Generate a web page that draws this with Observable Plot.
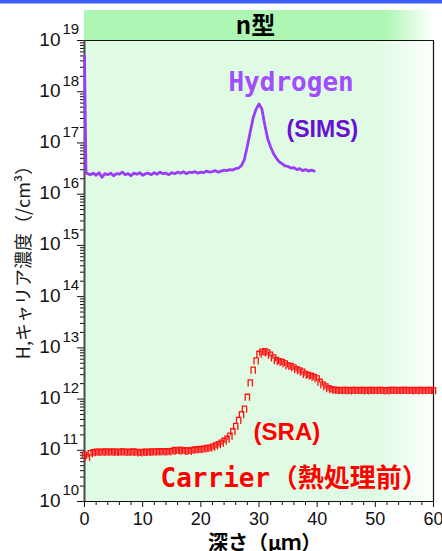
<!DOCTYPE html>
<html><head><meta charset="utf-8">
<script src="https://cdn.jsdelivr.net/npm/d3@7"></script>
<script src="https://cdn.jsdelivr.net/npm/@observablehq/plot@0.6"></script>
<style>
html,body{margin:0;padding:0;background:#fff;overflow:hidden}
svg{display:block}
</style>
</head><body><div id="chart"></div>
<script>
// ---- data ----
const sraDepth = [0,0.5,1,1.5,2,2.5,3,3.5,4,4.5,5,5.5,6,6.5,7,7.5,8,8.5,9,9.5,10,10.5,11,11.5,12,12.5,13,13.5,14,14.5,15,15.5,16,16.5,17,17.5,18,18.5,19,19.5,20,20.5,21,21.5,22,22.5,23,23.5,24,24.5,25,25.5,26,26.5,27,27.5,28,28.5,29,29.5,30,30.5,31,31.5,32,32.5,33,33.5,34,34.5,35,35.5,36,36.5,37,37.5,38,38.5,39,39.5,40,40.5,41,41.5,42,42.5,43,43.5,44,44.5,45,45.5,46,46.5,47,47.5,48,48.5,49,49.5,50,50.5,51,51.5,52,52.5,53,53.5,54,54.5,55,55.5,56,56.5,57,57.5,58,58.5,59,59.5,60];
const sraCarrier = [7.9e10,7.2e10,8.5e10,8.9e10,9.1e10,9.1e10,9.0e10,9.2e10,9.1e10,9.1e10,9.2e10,9.0e10,9.1e10,9.2e10,9.1e10,9.0e10,9.1e10,9.2e10,9.0e10,8.8e10,9.0e10,9.1e10,9.0e10,9.2e10,9.1e10,9.2e10,9.3e10,9.2e10,9.3e10,9.2e10,9.4e10,9.8e10,9.6e10,9.9e10,9.5e10,9.7e10,9.4e10,9.8e10,1.0e11,1.01e11,1.03e11,1.04e11,1.07e11,1.09e11,1.14e11,1.2e11,1.27e11,1.36e11,1.48e11,1.62e11,1.86e11,2.29e11,2.88e11,3.8e11,4.9e11,6.3e11,1.07e12,2.04e12,3.63e12,5.5e12,7.4e12,8.1e12,8.3e12,7.9e12,7.1e12,6.3e12,5.6e12,5.3e12,5.1e12,4.8e12,4.4e12,4.3e12,4.0e12,3.7e12,3.5e12,3.3e12,3.0e12,2.85e12,2.75e12,2.6e12,2.45e12,2.1e12,1.86e12,1.7e12,1.58e12,1.51e12,1.48e12,1.45e12,1.44e12,1.46e12,1.45e12,1.43e12,1.45e12,1.46e12,1.44e12,1.45e12,1.45e12,1.43e12,1.46e12,1.45e12,1.44e12,1.45e12,1.46e12,1.44e12,1.43e12,1.45e12,1.46e12,1.45e12,1.44e12,1.45e12,1.46e12,1.45e12,1.44e12,1.45e12,1.43e12,1.46e12,1.45e12,1.44e12,1.45e12,1.46e12,1.44e12];
const simsDepth = [0,0.25,0.5,1,1.5,2,2.5,3,3.5,4,4.5,5,5.5,6,6.5,7,7.5,8,8.5,9,9.5,10,10.5,11,11.5,12,12.5,13,13.5,14,14.5,15,15.5,16,16.5,17,17.5,18,18.5,19,19.5,20,20.5,21,21.5,22,22.5,23,23.5,24,24.5,25,25.5,26,26.5,27,27.5,28,28.5,29,29.5,30,30.5,31,31.5,32,32.5,33,33.5,34,34.5,35,35.5,36,36.5,37,37.5,38,38.5,39,39.5];
const simsHydrogen = [5.0e18,2.63e16,2.51e16,2.40e16,2.57e16,2.34e16,2.63e16,2.14e16,2.51e16,2.40e16,2.57e16,2.29e16,2.51e16,2.45e16,2.69e16,2.40e16,2.51e16,2.29e16,2.57e16,2.45e16,2.63e16,2.34e16,2.51e16,2.57e16,2.40e16,2.63e16,2.45e16,2.69e16,2.51e16,2.57e16,2.40e16,2.63e16,2.51e16,2.69e16,2.57e16,2.75e16,2.51e16,2.69e16,2.63e16,2.75e16,2.57e16,2.69e16,2.63e16,2.82e16,2.69e16,2.75e16,2.88e16,2.69e16,2.82e16,2.95e16,2.88e16,3.02e16,2.95e16,3.16e16,3.24e16,3.63e16,4.79e16,8.7e16,1.66e17,3.1e17,4.57e17,5.75e17,4.57e17,2.24e17,1.2e17,8.32e16,6.17e16,5.01e16,4.27e16,3.89e16,3.55e16,3.47e16,3.24e16,3.31e16,3.02e16,3.16e16,2.88e16,3.02e16,2.82e16,2.95e16,2.82e16];
const xTicks = [0,10,20,30,40,50,60];
const xMinorTicks = [2,4,6,8,12,14,16,18,22,24,26,28,32,34,36,38,42,44,46,48,52,54,56,58];
const yExponents = [10,11,12,13,14,15,16,17,18,19];
const yMajor = yExponents.map(e => Math.pow(10, e));
const yMinorTicks = [];
yExponents.slice(0, -1).forEach(e => { for (let k = 2; k <= 9; k++) yMinorTicks.push(k * Math.pow(10, e)); });

const sra = sraDepth.map((d, i) => ({depth: d, n: sraCarrier[i]}));
const sims = simsDepth.map((d, i) => ({depth: d, h: simsHydrogen[i]}));

// Π-shaped marker like the SRA points
const piSymbol = {draw(ctx, size) {
  const r = Math.sqrt(size / Math.PI), w = r * 0.65, h = r;
  ctx.moveTo(-w, h); ctx.lineTo(-w, -h); ctx.lineTo(w, -h); ctx.lineTo(w, h);
}};

const chart = Plot.plot({
  width: 442, height: 551,
  marginLeft: 84, marginRight: 9, marginTop: 40, marginBottom: 50,
  style: {fontFamily: "'Liberation Sans', Arial, sans-serif", background: "transparent", color: "#111"},
  x: {domain: [0, 60]},
  y: {type: "log", domain: [1e10, 1e19]},
  marks: [
    Plot.axisX({ticks: xMinorTicks, tickSize: 4, tickFormat: () => "", label: null}),
    Plot.axisX({ticks: xTicks, tickSize: 6, tickPadding: 5, fontSize: 18, label: null}),
    Plot.axisY({ticks: yMinorTicks, tickSize: 4, tickFormat: () => "", label: null}),
    Plot.axisY({ticks: yMajor, tickSize: 7, tickFormat: () => "", label: null}),
    Plot.text(yMajor, {y: d => d, frameAnchor: "left", text: () => "10", textAnchor: "end", dx: -24, dy: -1, fontSize: 19, fill: "#111"}),
    Plot.text(yMajor, {y: d => d, frameAnchor: "left", text: (d, i) => String(yExponents[i]), textAnchor: "start", dx: -22, dy: -11, fontSize: 15, fill: "#111"}),
    Plot.ruleX([60], {stroke: "#111", strokeWidth: 1.2}),
    Plot.ruleY([1e19], {stroke: "#111", strokeWidth: 1.2}),
    Plot.ruleY([1e10], {stroke: "#111", strokeWidth: 1.2}),
    Plot.ruleX([0], {stroke: "#4a4a4a", strokeWidth: 2}),
    Plot.line(sims, {x: "depth", y: "h", stroke: "#9a3cf6", strokeWidth: 2.8}),
    Plot.dot(sra, {x: "depth", y: "n", symbol: piSymbol, r: 3.3, stroke: "#ff1010", fill: "none", strokeWidth: 1.3}),
    Plot.text(["Hydrogen"], {x: 24.75, y: 1.53e18, text: d => d, textAnchor: "start", fontFamily: "'DejaVu Sans Mono', monospace", fontWeight: "bold", fontSize: 26, fill: "#a24cff"}),
    Plot.text(["(SIMS)"], {x: 40.9, y: 1.86e17, text: d => d, fontFamily: "'Liberation Sans', Arial, sans-serif", fontWeight: "bold", fontSize: 23, fill: "#6a0fd4"}),
    Plot.text(["(SRA)"], {x: 34.8, y: 2.24e11, text: d => d, fontFamily: "'Liberation Sans', Arial, sans-serif", fontWeight: "bold", fontSize: 24, fill: "#ff0000"}),
    Plot.text(["Carrier"], {x: 13.07, y: 2.79e10, text: d => d, textAnchor: "start", fontFamily: "'DejaVu Sans Mono', monospace", fontWeight: "bold", fontSize: 26, fill: "#ff0000"}),
    Plot.text(["（熱処理前）"], {x: 32.2, y: 2.79e10, text: d => d, textAnchor: "start", fontFamily: "'Noto Sans CJK JP', sans-serif", fontWeight: "bold", fontSize: 26, fill: "#ff0000"})
  ]
});
document.getElementById("chart").appendChild(chart);

// ---- decorations: backgrounds, title band, axis titles ----
const svg = d3.select(chart);
const sx = chart.scale("x"), sy = chart.scale("y");
const x0 = sx.apply(0), x1 = sx.apply(60), yTop = sy.apply(1e19), yBot = sy.apply(1e10);
const defs = svg.insert("defs", "g");
const g1 = defs.append("linearGradient").attr("id", "plotBg").attr("x1", 0).attr("x2", 1).attr("y1", 0).attr("y2", 0);
g1.append("stop").attr("offset", 0).attr("stop-color", "#e0fbe3");
g1.append("stop").attr("offset", 0.83).attr("stop-color", "#e0fbe3");
g1.append("stop").attr("offset", 1).attr("stop-color", "#fbfffb");
const g2 = defs.append("linearGradient").attr("id", "bandBg").attr("x1", 0).attr("x2", 1).attr("y1", 0).attr("y2", 0);
g2.append("stop").attr("offset", 0).attr("stop-color", "#adf6b3");
g2.append("stop").attr("offset", 0.86).attr("stop-color", "#adf6b3");
g2.append("stop").attr("offset", 1).attr("stop-color", "#ffffff");
svg.insert("rect", "g").attr("x", x0).attr("y", yTop).attr("width", x1 - x0).attr("height", yBot - yTop).attr("fill", "url(#plotBg)");
svg.insert("rect", "g").attr("x", x0).attr("y", 10).attr("width", x1 - x0).attr("height", yTop - 10).attr("fill", "url(#bandBg)");
svg.insert("rect", "g").attr("x", 0).attr("y", 0).attr("width", 442).attr("height", 3.5).attr("fill", "#3b5cf0");
svg.append("text").attr("x", (x0 + x1) / 2 - 3).attr("y", 34).attr("text-anchor", "middle")
  .attr("font-family", "'Noto Sans CJK JP', sans-serif").attr("font-weight", "bold").attr("font-size", 24).attr("fill", "#000").text("n型");
svg.append("text").attr("transform", "translate(22,258) rotate(-90)").attr("text-anchor", "middle").attr("dominant-baseline", "central")
  .attr("font-family", "'Noto Sans CJK JP', sans-serif").attr("font-size", 18).attr("fill", "#1a1a1a").text("H,キャリア濃度（/cm³）");
svg.append("text").attr("x", 208).attr("y", 550).attr("text-anchor", "start")
  .attr("font-family", "'Noto Sans CJK JP', sans-serif").attr("font-weight", "bold").attr("font-size", 20).attr("fill", "#000").text("深さ（μｍ）");
</script>
</body></html>
